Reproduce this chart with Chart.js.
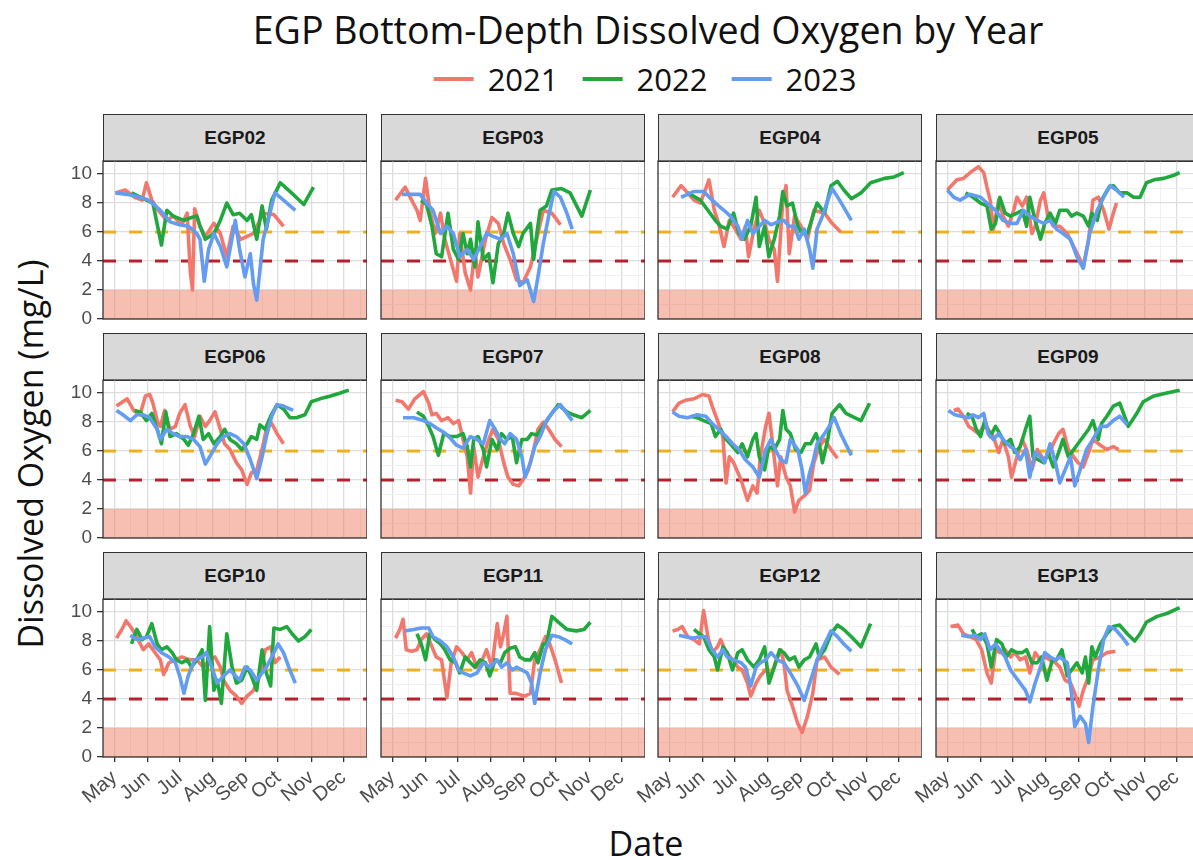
<!DOCTYPE html>
<html>
<head>
<meta charset="utf-8">
<script src="https://cdn.jsdelivr.net/npm/chart.js@4.4.1/dist/chart.umd.min.js"></script>
<style>
  html, body { margin: 0; padding: 0; background: #fff; overflow: hidden; }
  body { width: 1193px; height: 860px; position: relative; font-family: "Liberation Sans", Arial, sans-serif; }
  .title { position: absolute; left: 648px; top: 4px; transform: translateX(-50%); white-space: nowrap;
    font-family: "Open Sans", sans-serif; font-size: 37.6px; color: #111; }
  .legend { position: absolute; left: 645px; top: 58px; transform: translateX(-50%); display: flex; align-items: center;
    font-family: "Open Sans", sans-serif; font-size: 31px; color: #111; white-space: nowrap; }
  .legend .item { display: flex; align-items: center; margin: 0 12px; }
  .legend .swatch { width: 40px; height: 4px; margin-right: 14px; }
  .ytitle { position: absolute; left: 30px; top: 454px; transform: translate(-50%, -50%) rotate(-90deg); white-space: nowrap;
    font-family: "Open Sans", sans-serif; font-size: 34px; color: #111; }
  .xtitle { position: absolute; left: 646px; top: 843px; transform: translate(-50%, -50%);
    font-family: "Open Sans", sans-serif; font-size: 34px; color: #111; }
  .strip { position: absolute; box-sizing: border-box; border: 1px solid #333; background: #d9d9d9;
    font-weight: bold; font-size: 19px; color: #1a1a1a; text-align: center; }
  canvas { position: absolute; }
</style>
</head>
<body>
<div class="title">EGP Bottom-Depth Dissolved Oxygen by Year</div>
<div class="legend" id="legend"></div>
<div class="ytitle">Dissolved Oxygen (mg/L)</div>
<div class="xtitle">Date</div>
<script>
// day of year, dissolved oxygen (mg/L)
const egp02_2021 = [[122,8.7],[131,8.9],[140,8.4],[147,8.2],[151,9.4],[156,8.2],[162,7.5],[170,6.8],[176,7.1],[184,6.5],[189,7.3],[192,3.2],[194,2.0],[196,7.6],[201,6.4],[206,5.7],[214,6.6],[220,5.9],[226,4.3],[232,6.4],[239,5.5],[245,5.7],[251,5.9],[260,7.3],[270,7.2],[279,6.4]];
const egp02_2022 = [[137,8.7],[151,8.2],[157,8.0],[165,5.1],[170,7.5],[176,7.1],[186,6.8],[193,7.0],[198,7.1],[201,6.4],[206,5.5],[214,5.9],[220,6.8],[226,8.0],[232,7.2],[238,7.3],[245,6.8],[249,7.2],[254,5.5],[259,7.8],[263,6.2],[268,8.2],[276,9.4],[285,8.8],[298,7.9],[307,9.1]];
const egp02_2023 = [[122,8.7],[133,8.6],[145,8.4],[153,8.2],[164,7.5],[173,6.7],[182,6.5],[190,6.4],[198,5.9],[201,5.5],[205,2.6],[209,4.8],[214,5.9],[220,5.0],[226,3.6],[234,6.8],[238,4.8],[243,2.9],[248,4.5],[251,2.4],[254,1.3],[260,5.5],[267,7.5],[271,8.7],[279,8.2],[290,7.5]];

const egp03_2021 = [[124,8.2],[133,9.1],[139,8.2],[144,7.5],[147,6.8],[152,9.7],[156,7.5],[161,5.9],[166,7.3],[170,5.5],[181,2.6],[184,5.9],[189,3.2],[194,2.0],[198,4.8],[201,2.9],[208,5.5],[214,7.0],[220,6.6],[225,5.2],[231,4.1],[237,2.7],[243,2.5],[250,3.6],[257,5.9],[262,7.5],[270,7.3],[278,6.5]];
const egp03_2022 = [[148,8.2],[153,7.9],[158,6.4],[162,4.5],[167,4.3],[173,7.3],[178,4.8],[183,4.1],[187,5.9],[191,4.5],[194,5.5],[198,3.6],[201,6.7],[206,4.1],[211,4.5],[215,2.5],[220,5.2],[225,5.9],[229,7.3],[234,5.9],[239,5.0],[243,5.9],[250,6.6],[253,4.1],[256,5.9],[259,7.5],[265,7.8],[270,8.9],[279,9.0],[287,8.7],[298,7.1],[306,8.9]];
const egp03_2023 = [[130,8.6],[147,8.6],[153,8.0],[159,7.5],[166,5.9],[172,6.4],[178,5.9],[184,4.3],[191,4.8],[197,4.1],[203,5.0],[209,5.9],[215,5.7],[222,5.5],[228,5.9],[234,4.5],[240,2.3],[247,2.7],[253,1.2],[257,2.9],[262,5.2],[267,7.1],[272,8.8],[278,8.4],[284,7.3],[289,6.2]];

const egp04_2021 = [[124,8.4],[132,9.2],[138,8.7],[144,8.2],[150,8.0],[158,9.6],[163,7.5],[167,6.6],[172,5.0],[177,6.8],[181,6.4],[188,5.5],[192,6.4],[195,4.3],[200,6.2],[205,7.5],[210,6.6],[214,5.5],[219,4.8],[222,2.6],[227,8.2],[230,9.2],[233,4.5],[238,7.1],[244,6.4],[250,5.5],[256,7.5],[266,7.3],[273,6.6],[281,6.0]];
const egp04_2022 = [[138,8.7],[150,8.2],[157,7.5],[164,6.8],[169,6.4],[175,6.2],[181,7.3],[186,5.9],[191,5.5],[197,6.4],[202,8.4],[205,5.0],[210,6.4],[214,4.3],[219,5.5],[224,7.1],[227,8.8],[231,7.8],[236,8.0],[241,6.4],[245,5.9],[250,5.9],[255,7.1],[259,8.0],[266,7.3],[272,9.2],[278,9.5],[284,8.9],[291,8.3],[300,8.7],[309,9.4],[322,9.7],[331,9.8],[340,10.1]];
const egp04_2023 = [[132,8.4],[138,8.6],[144,8.8],[153,8.8],[161,8.2],[167,7.8],[172,7.5],[178,7.1],[185,6.4],[189,5.5],[194,6.8],[199,5.9],[203,6.2],[210,6.8],[216,6.5],[222,6.7],[228,6.8],[233,6.4],[238,6.4],[242,5.5],[247,6.2],[252,4.8],[255,3.5],[259,6.2],[264,7.1],[269,8.2],[273,9.0],[280,8.2],[291,6.8]];

const egp05_2021 = [[121,8.9],[130,9.6],[136,9.7],[144,10.2],[150,10.5],[155,10.1],[158,9.1],[161,8.2],[164,6.2],[169,8.2],[173,7.1],[178,6.4],[183,7.5],[186,8.4],[191,7.8],[195,8.4],[200,5.9],[203,6.4],[208,8.2],[211,8.7],[215,7.1],[220,6.4],[226,6.4],[233,5.9],[239,5.0],[245,4.1],[248,3.6],[253,5.5],[257,8.2],[262,8.4],[267,7.5],[272,6.2],[276,7.3],[279,8.0]];
const egp05_2022 = [[138,8.7],[145,8.4],[152,8.0],[158,7.8],[162,6.2],[166,6.6],[170,8.4],[175,7.3],[180,7.1],[186,7.3],[191,7.5],[195,6.4],[198,8.4],[203,6.8],[208,5.5],[212,6.6],[217,7.3],[222,6.6],[226,7.5],[233,7.5],[237,7.1],[242,7.3],[248,7.1],[253,6.4],[256,7.3],[261,6.8],[265,8.2],[272,9.1],[276,9.2],[282,8.7],[289,8.7],[295,8.4],[301,8.4],[307,9.4],[314,9.6],[323,9.7],[332,9.9],[338,10.1]];
const egp05_2023 = [[121,8.9],[127,8.4],[133,8.2],[142,8.6],[152,8.4],[158,8.0],[166,7.5],[173,6.8],[180,6.6],[186,6.6],[192,7.5],[198,7.1],[205,6.8],[211,6.6],[217,6.8],[223,6.2],[229,5.9],[236,5.5],[242,4.3],[248,3.5],[254,5.9],[261,7.5],[267,8.4],[273,9.2],[279,8.9],[286,8.4]];

const egp06_2021 = [[123,9.1],[133,9.6],[139,8.8],[145,8.5],[150,9.8],[154,9.9],[157,9.3],[161,8.1],[164,7.7],[168,8.8],[173,7.5],[178,7.7],[182,8.6],[187,9.2],[192,7.7],[196,7.0],[201,8.4],[206,7.7],[210,8.1],[215,8.7],[220,7.5],[224,6.5],[229,6.1],[235,5.2],[240,4.7],[245,3.7],[249,4.5],[254,4.7],[259,6.1],[263,7.5],[268,7.9],[273,7.2],[279,6.5]];
const egp06_2022 = [[140,8.8],[145,8.7],[151,8.1],[156,8.6],[161,7.5],[165,6.5],[169,8.7],[173,7.0],[179,7.2],[186,6.8],[190,6.4],[195,7.2],[200,8.4],[204,6.8],[209,7.2],[214,6.5],[220,7.0],[224,7.5],[229,6.8],[235,6.5],[240,6.1],[245,6.5],[249,7.0],[254,6.8],[257,7.8],[262,7.5],[267,8.4],[273,9.2],[279,8.9],[285,8.3],[291,8.3],[299,8.5],[305,9.4],[313,9.6],[323,9.8],[332,10.0],[340,10.2]];
const egp06_2023 = [[123,8.8],[129,8.5],[136,8.1],[142,8.5],[148,8.5],[154,8.3],[161,7.5],[164,6.8],[170,7.5],[176,7.2],[182,7.0],[189,7.0],[195,6.8],[201,6.3],[206,5.1],[210,5.6],[217,6.5],[223,7.0],[229,7.2],[235,7.0],[242,6.5],[248,5.4],[254,4.1],[259,5.6],[263,7.0],[268,8.4],[273,9.2],[279,9.1],[288,8.8]];

const egp07_2021 = [[124,9.5],[130,9.4],[136,8.9],[142,9.6],[150,10.1],[155,9.3],[158,8.5],[162,8.6],[167,8.1],[173,8.3],[178,7.9],[183,8.1],[187,6.8],[191,5.6],[194,3.1],[197,6.3],[201,4.2],[206,5.6],[211,6.8],[215,7.5],[220,6.8],[225,5.2],[229,4.2],[234,3.7],[239,3.6],[243,4.0],[248,4.7],[253,6.1],[257,7.5],[262,8.0],[267,7.5],[273,6.8],[279,6.3]];
const egp07_2022 = [[144,8.7],[150,8.4],[155,7.7],[159,7.0],[164,5.7],[169,7.2],[175,7.0],[181,7.0],[187,7.2],[191,6.3],[194,4.9],[197,6.8],[201,7.0],[206,6.1],[209,4.9],[214,6.8],[219,6.1],[223,7.2],[228,6.8],[233,7.0],[237,5.2],[242,6.8],[247,6.8],[251,7.2],[256,7.1],[262,7.7],[268,8.4],[276,9.2],[284,8.7],[290,8.5],[298,8.3],[306,8.8]];
const egp07_2023 = [[131,8.3],[141,8.3],[150,8.1],[156,7.9],[162,7.6],[169,7.3],[175,6.9],[181,6.4],[187,6.2],[194,7.0],[200,6.8],[206,6.5],[212,8.1],[217,7.5],[222,6.8],[226,6.5],[231,7.2],[237,6.8],[242,5.6],[245,4.2],[250,5.2],[254,6.3],[259,7.0],[265,8.1],[272,8.8],[278,9.2],[284,8.6],[289,8.1]];

const egp08_2021 = [[124,8.7],[130,9.3],[136,9.5],[144,9.6],[152,9.9],[158,9.8],[161,9.1],[166,8.1],[171,7.0],[174,3.8],[177,5.6],[181,5.2],[188,4.0],[194,2.6],[199,3.6],[203,3.1],[206,5.6],[211,7.7],[214,8.6],[217,6.8],[222,3.6],[225,5.6],[230,4.2],[234,3.6],[238,1.8],[242,2.6],[247,2.9],[252,3.3],[256,5.2],[261,6.3],[266,6.8],[272,6.1],[278,5.5]];
const egp08_2022 = [[141,8.4],[147,8.3],[153,8.1],[160,7.9],[164,7.0],[169,7.5],[174,6.8],[178,6.5],[185,5.9],[189,6.5],[194,5.6],[199,6.8],[202,7.2],[205,5.6],[210,4.7],[214,6.3],[219,6.1],[224,6.8],[227,8.8],[230,7.5],[234,7.2],[239,6.1],[244,5.9],[248,6.5],[253,6.5],[258,7.2],[261,6.5],[264,5.2],[269,6.8],[273,8.6],[280,9.2],[286,8.6],[294,8.3],[300,8.1],[308,9.3]];
const egp08_2023 = [[124,8.7],[130,8.4],[138,8.3],[147,8.5],[155,8.4],[161,7.9],[167,7.5],[174,7.0],[180,6.5],[186,6.1],[192,5.4],[199,4.9],[205,4.2],[211,6.1],[216,6.8],[220,6.1],[225,5.4],[230,5.2],[234,6.8],[241,6.1],[245,4.7],[248,3.1],[252,4.5],[255,5.2],[259,6.5],[266,7.2],[272,7.9],[275,8.3],[281,7.2],[291,5.7]];

const egp09_2021 = [[127,8.8],[131,8.9],[136,8.4],[141,7.7],[145,7.5],[150,7.2],[155,7.7],[159,7.5],[164,7.0],[169,5.9],[173,6.8],[178,5.6],[181,4.2],[186,5.6],[191,6.8],[195,6.1],[200,4.7],[205,6.1],[211,5.4],[215,5.6],[220,6.5],[225,7.2],[229,7.5],[234,6.1],[239,5.6],[243,5.2],[248,4.9],[253,5.9],[257,6.8],[264,6.4],[270,6.1],[276,6.3],[281,6.1]];
const egp09_2022 = [[139,8.6],[144,8.4],[148,7.5],[152,7.0],[156,8.1],[161,7.0],[166,7.7],[170,7.2],[175,6.5],[180,6.8],[184,5.9],[189,6.3],[194,7.5],[198,8.4],[201,5.6],[206,5.4],[211,5.2],[215,5.9],[220,4.9],[225,5.9],[229,6.8],[234,5.6],[239,6.1],[243,6.5],[248,7.0],[253,7.5],[257,8.1],[262,6.8],[265,7.9],[270,8.4],[276,9.1],[282,9.3],[290,7.7],[298,8.6],[304,9.4],[314,9.8],[326,10.0],[338,10.2]];
const egp09_2023 = [[122,8.8],[128,8.5],[134,8.4],[141,8.3],[145,8.5],[150,8.3],[155,8.6],[159,7.2],[164,6.8],[169,7.2],[173,6.8],[180,6.3],[184,6.1],[189,5.4],[194,6.1],[198,4.2],[203,5.9],[208,5.6],[212,5.2],[217,6.5],[222,5.2],[226,3.8],[231,4.7],[236,5.6],[240,3.6],[245,4.7],[251,6.1],[257,6.8],[264,7.7],[270,7.7],[276,8.1],[282,8.4],[289,7.8]];

const egp10_2021 = [[123,8.2],[128,8.8],[132,9.4],[137,8.9],[142,8.3],[148,7.4],[153,7.8],[157,7.4],[164,6.7],[167,5.7],[172,6.5],[178,6.7],[184,6.9],[192,6.7],[198,6.7],[204,6.2],[210,6.7],[215,6.9],[220,6.2],[223,5.3],[229,4.6],[235,4.2],[240,3.7],[245,4.2],[251,4.6],[257,5.6],[262,7.4],[267,7.6],[271,6.5],[276,6.9]];
const egp10_2022 = [[137,7.8],[142,8.8],[147,8.1],[151,8.3],[156,9.2],[161,7.8],[165,7.4],[170,7.6],[175,7.2],[179,6.7],[184,6.5],[189,6.7],[193,6.2],[198,6.7],[203,7.4],[206,3.9],[210,9.0],[214,4.6],[217,5.3],[221,3.7],[226,8.5],[231,6.2],[235,5.1],[240,5.3],[245,6.2],[249,5.6],[254,4.6],[259,7.4],[262,6.0],[267,4.9],[270,8.9],[276,8.8],[282,9.0],[287,8.5],[293,8.0],[299,8.3],[305,8.8]];
const egp10_2023 = [[136,8.4],[142,8.1],[148,8.2],[154,8.3],[159,7.6],[165,7.2],[172,6.9],[178,6.5],[182,5.6],[186,4.4],[190,5.6],[196,6.7],[203,6.9],[207,7.2],[212,6.2],[217,5.1],[223,5.6],[229,6.0],[234,5.6],[238,5.3],[243,6.2],[248,6.0],[254,5.3],[259,5.8],[263,6.2],[268,6.9],[274,7.8],[279,7.2],[285,6.0],[290,5.1]];

const egp11_2021 = [[124,8.2],[128,8.8],[131,9.5],[134,7.4],[139,7.3],[144,7.4],[148,8.1],[153,8.5],[158,7.6],[162,6.9],[167,6.7],[170,5.1],[172,4.1],[176,6.5],[181,7.6],[186,7.2],[191,6.7],[195,7.2],[200,6.2],[205,6.7],[209,7.4],[214,6.2],[219,9.2],[222,7.6],[225,8.5],[228,9.7],[231,4.4],[236,4.4],[240,4.3],[245,4.2],[250,4.4],[254,6.7],[259,7.4],[264,8.3],[268,7.8],[273,6.7],[279,5.1]];
const egp11_2022 = [[144,8.5],[148,7.8],[152,6.7],[156,8.5],[161,8.1],[166,7.8],[170,7.4],[175,6.7],[180,6.5],[184,5.8],[189,6.9],[194,6.5],[198,6.2],[203,6.7],[208,6.5],[212,5.6],[217,6.7],[222,6.5],[226,7.2],[231,7.5],[236,7.6],[240,6.9],[245,6.7],[250,6.7],[254,7.2],[257,6.5],[262,7.8],[265,7.8],[270,9.7],[276,9.3],[284,8.8],[293,8.7],[300,8.8],[306,9.3]];
const egp11_2023 = [[133,8.7],[141,8.8],[148,8.9],[155,8.9],[159,8.3],[166,8.0],[172,7.6],[178,6.9],[183,6.0],[187,5.8],[194,5.6],[200,5.8],[206,6.5],[212,6.2],[219,6.7],[223,6.2],[228,6.5],[233,6.0],[237,6.2],[242,6.0],[247,5.8],[251,5.1],[254,3.7],[259,5.8],[264,7.4],[270,8.4],[276,8.3],[282,8.1],[289,7.8]];

const egp12_2021 = [[124,8.7],[129,8.8],[133,9.0],[138,8.3],[144,8.1],[149,7.8],[153,10.1],[157,8.3],[161,7.2],[166,7.6],[169,8.1],[174,7.2],[178,6.9],[185,6.2],[189,6.0],[194,5.1],[197,4.2],[202,5.1],[206,5.6],[211,6.0],[216,5.6],[220,6.5],[225,7.4],[228,6.5],[231,4.6],[236,3.5],[241,2.3],[245,1.7],[250,2.8],[255,4.4],[259,6.7],[266,6.9],[272,6.2],[280,5.7]];
const egp12_2022 = [[144,8.8],[149,8.5],[153,8.3],[158,7.4],[163,6.9],[166,6.0],[171,7.6],[175,7.2],[180,6.0],[185,7.2],[189,7.4],[194,6.7],[200,6.2],[205,6.7],[210,7.6],[214,5.1],[219,6.2],[224,7.4],[228,7.2],[233,6.7],[238,6.9],[242,6.2],[247,6.7],[252,6.9],[258,7.8],[261,6.9],[266,7.4],[272,8.5],[278,9.1],[284,8.8],[291,8.3],[300,7.6],[309,9.2]];
const egp12_2023 = [[130,8.4],[136,8.3],[143,8.2],[149,8.3],[155,8.3],[161,7.4],[166,6.9],[171,7.4],[175,6.9],[181,6.7],[188,6.5],[192,6.2],[197,4.9],[202,6.2],[206,6.5],[211,6.7],[216,7.2],[222,6.7],[228,6.5],[234,5.8],[241,4.9],[247,3.9],[253,5.3],[259,6.7],[266,7.8],[272,8.7],[278,8.3],[284,7.8],[291,7.3]];

const egp13_2021 = [[124,9.0],[131,9.1],[136,8.5],[142,8.3],[148,8.1],[153,7.4],[158,5.8],[162,5.1],[166,7.4],[170,7.2],[175,7.4],[180,6.9],[184,7.2],[189,6.7],[194,6.9],[198,5.8],[203,7.2],[208,6.7],[212,6.9],[217,6.7],[222,6.5],[226,6.2],[231,5.3],[236,5.1],[240,4.4],[244,3.5],[248,4.6],[253,5.6],[257,6.7],[264,6.9],[270,7.2],[278,7.3]];
const egp13_2022 = [[144,8.8],[148,8.3],[153,8.5],[158,7.8],[162,6.2],[167,8.1],[172,7.8],[176,6.9],[181,7.4],[186,7.2],[191,7.2],[195,7.4],[200,6.5],[205,6.5],[209,6.9],[214,5.3],[219,6.7],[223,6.7],[228,7.4],[233,5.6],[237,6.0],[242,6.5],[247,5.8],[250,6.9],[253,5.1],[256,7.6],[259,6.9],[264,7.8],[270,8.5],[276,9.0],[282,9.1],[289,8.5],[296,8.0],[301,8.5],[307,9.3],[317,9.7],[326,9.9],[338,10.3]];
const egp13_2023 = [[134,8.4],[141,8.3],[147,8.4],[152,8.1],[156,8.5],[161,7.4],[166,7.8],[170,7.4],[175,6.9],[180,6.0],[184,5.6],[189,5.1],[194,4.6],[198,3.8],[203,5.1],[208,6.2],[212,7.2],[217,6.9],[222,6.7],[226,6.9],[233,6.5],[237,4.4],[240,2.1],[245,2.8],[250,2.3],[253,1.0],[257,3.5],[262,6.0],[267,8.1],[272,9.0],[278,8.8],[284,8.3],[290,7.7]];

const stations = ["EGP02", "EGP03", "EGP04", "EGP05", "EGP06", "EGP07", "EGP08", "EGP09", "EGP10", "EGP11", "EGP12", "EGP13"];
const years = ["2021", "2022", "2023"];
const yearColors = ["#F2786D", "#20A83F", "#639CF0"];
const stationSeries = [
  [egp02_2021, egp02_2022, egp02_2023], [egp03_2021, egp03_2022, egp03_2023],
  [egp04_2021, egp04_2022, egp04_2023], [egp05_2021, egp05_2022, egp05_2023],
  [egp06_2021, egp06_2022, egp06_2023], [egp07_2021, egp07_2022, egp07_2023],
  [egp08_2021, egp08_2022, egp08_2023], [egp09_2021, egp09_2022, egp09_2023],
  [egp10_2021, egp10_2022, egp10_2023], [egp11_2021, egp11_2022, egp11_2023],
  [egp12_2021, egp12_2022, egp12_2023], [egp13_2021, egp13_2022, egp13_2023],
];

// month breaks as day of year
const monthStarts = [121, 152, 182, 213, 244, 274, 305, 335];
const monthLabels = ["May", "Jun", "Jul", "Aug", "Sep", "Oct", "Nov", "Dec"];
const xRange = [110.4, 357];
const yRange = [0, 10.9];
const yTickValues = [0, 1, 2, 3, 4, 5, 6, 7, 8, 9, 10];

const doThresholds = [6, 4];
const thresholdColors = ["#EDB120", "#B5222B"];
const hypoxiaBand = [0, 2];

// panel layout
const colLeft = [103, 381, 658, 936];
const rowTop = [161, 380, 599];
const plotW = 264, plotH = 158, stripH = 47, axisW = 50, axisH = 62, padTop = 2;

const yTickFont = { family: "'Liberation Sans', Arial, sans-serif", size: 19 };
const xTickFont = { family: "'Liberation Sans', Arial, sans-serif", size: 20 };
const majorGrid = "#dddddd", minorGrid = "#eeeeee";

const xTickValues = [];
monthStarts.forEach((m, i) => {
  xTickValues.push(m);
  const next = i < monthStarts.length - 1 ? monthStarts[i + 1] : m + 31;
  xTickValues.push((m + next) / 2);
});

const isMonth = (v) => monthStarts.indexOf(v) >= 0;

const legendEl = document.getElementById("legend");
years.forEach((y, k) => {
  const item = document.createElement("div");
  item.className = "item";
  item.innerHTML = `<span class="swatch" style="background:${yearColors[k]}"></span><span>${y}</span>`;
  legendEl.appendChild(item);
});

const panelFrame = {
  id: "panelFrame",
  afterDraw(chart) {
    const a = chart.chartArea, c = chart.ctx;
    c.save();
    c.strokeStyle = "#333";
    c.lineWidth = 1.3;
    c.strokeRect(a.left, a.top, a.right - a.left, a.bottom - a.top);
    c.restore();
  },
};

stations.forEach((name, i) => {
  const col = i % 4, row = Math.floor(i / 4);
  const showY = col === 0, showX = row === 2;

  const strip = document.createElement("div");
  strip.className = "strip";
  strip.style.left = colLeft[col] + "px";
  strip.style.top = rowTop[row] - stripH + "px";
  strip.style.width = plotW + "px";
  strip.style.height = stripH + 1 + "px";
  strip.style.lineHeight = stripH - 2 + "px";
  strip.textContent = name;
  document.body.appendChild(strip);

  const cv = document.createElement("canvas");
  cv.width = plotW + axisW;
  cv.height = plotH + axisH + padTop;
  cv.style.left = colLeft[col] - axisW + "px";
  cv.style.top = rowTop[row] - padTop + "px";
  document.body.appendChild(cv);

  const series = stationSeries[i];
  const datasets = years.map((y, k) => ({
    label: y,
    data: series[k].map((p) => ({ x: p[0], y: p[1] })),
    borderColor: yearColors[k],
    borderWidth: 3.6,
    borderJoinStyle: "round",
    pointRadius: 0,
    tension: 0,
    fill: false,
    order: 3 - k,
  }));
  doThresholds.forEach((t, k) => {
    datasets.push({
      data: [{ x: xRange[0], y: t }, { x: xRange[1], y: t }],
      borderColor: thresholdColors[k],
      borderWidth: 3,
      borderDash: [13, 13],
      pointRadius: 0,
      fill: false,
      order: 20,
    });
  });
  datasets.push({
    data: [{ x: xRange[0], y: hypoxiaBand[1] }, { x: xRange[1], y: hypoxiaBand[1] }],
    borderWidth: 0,
    borderColor: "rgba(0,0,0,0)",
    backgroundColor: "rgba(238,110,85,0.45)",
    fill: { value: hypoxiaBand[0] },
    pointRadius: 0,
    order: 30,
  });

  new Chart(cv, {
    type: "line",
    data: { datasets },
    options: {
      responsive: false,
      animation: false,
      events: [],
      layout: { padding: { top: padTop, left: 0, right: 0, bottom: 0 } },
      plugins: { legend: { display: false }, tooltip: { enabled: false } },
      scales: {
        x: {
          type: "linear",
          min: xRange[0],
          max: xRange[1],
          bounds: "data",
          afterBuildTicks: (s) => { s.ticks = xTickValues.map((v) => ({ value: v })); },
          afterFit: (s) => { s.height = axisH; s.paddingLeft = 0; s.paddingRight = 0; },
          border: { display: false },
          grid: {
            color: (c) => (c.tick && isMonth(c.tick.value) ? majorGrid : minorGrid),
            lineWidth: (c) => (c.tick && isMonth(c.tick.value) ? 1.3 : 0.9),
            drawTicks: showX,
            tickLength: 5,
            tickColor: (c) => (c.tick && isMonth(c.tick.value) ? "#333" : "rgba(0,0,0,0)"),
            tickWidth: 1.3,
          },
          ticks: {
            display: showX,
            autoSkip: false,
            maxRotation: 40,
            minRotation: 40,
            padding: 4,
            color: "#4d4d4d",
            font: xTickFont,
            callback: (v) => { const k = monthStarts.indexOf(v); return k >= 0 ? monthLabels[k] : ""; },
          },
        },
        y: {
          min: yRange[0],
          max: yRange[1],
          bounds: "data",
          afterBuildTicks: (s) => { s.ticks = yTickValues.map((v) => ({ value: v })); },
          afterFit: (s) => { s.width = axisW; s.paddingTop = 0; s.paddingBottom = 0; },
          border: { display: false },
          grid: {
            color: (c) => (c.tick && c.tick.value % 2 === 0 ? majorGrid : minorGrid),
            lineWidth: (c) => (c.tick && c.tick.value % 2 === 0 ? 1.3 : 0.9),
            drawTicks: showY,
            tickLength: 6,
            tickColor: (c) => (c.tick && c.tick.value % 2 === 0 ? "#333" : "rgba(0,0,0,0)"),
            tickWidth: 1.3,
          },
          ticks: {
            display: showY,
            padding: 5,
            color: "#4d4d4d",
            font: yTickFont,
            callback: (v) => (v % 2 === 0 ? String(v) : ""),
          },
        },
      },
    },
    plugins: [panelFrame],
  });
});
</script>
</body>
</html>
